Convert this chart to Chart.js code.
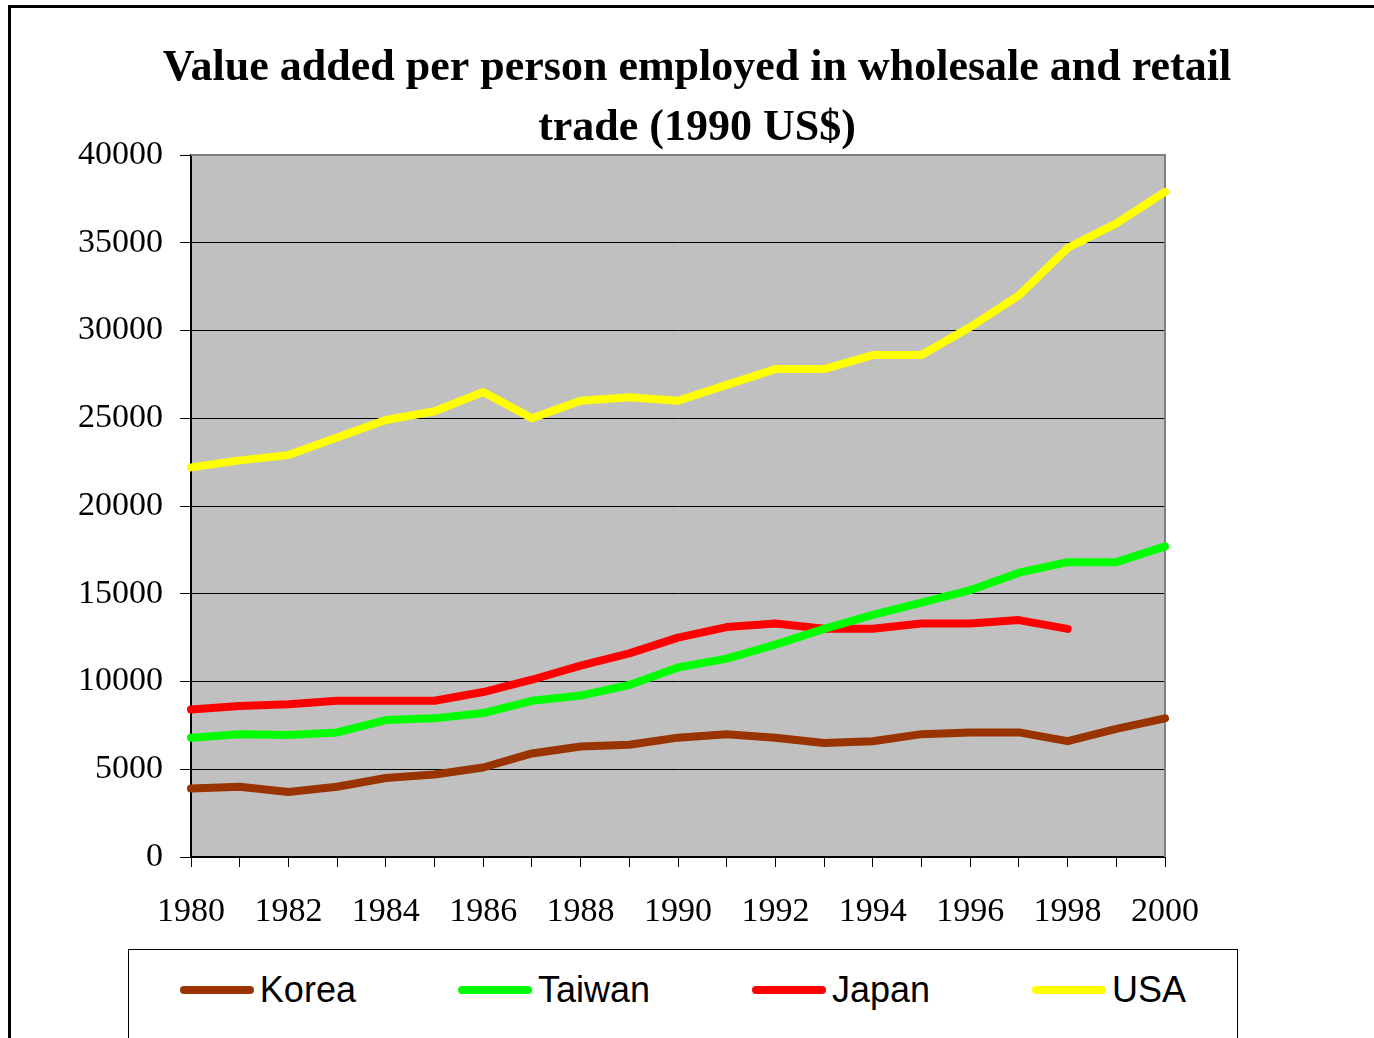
<!DOCTYPE html>
<html>
<head>
<meta charset="utf-8">
<title>Value added per person employed</title>
<script src="https://cdn.jsdelivr.net/npm/chart.js@4.4.1/dist/chart.umd.min.js"></script>
<style>
  html, body { margin: 0; padding: 0; background: #fff; overflow: hidden; }
  #frame { position: absolute; left: 8px; top: 5px; width: 1400px; height: 1100px;
           border-left: 3px solid #000; border-top: 3px solid #000; }
  #wrap { position: absolute; left: 0; top: 0; width: 1374px; height: 1038px; }
  #legendBox { position: absolute; left: 128px; top: 949px; width: 1110px; height: 200px;
               border: 1px solid #000; background: #fff; box-sizing: border-box;
               display: flex; justify-content: center; gap: 102px; padding-top: 22px;
               font-family: 'Liberation Sans', Arial, sans-serif; font-size: 36px; color: #000; }
  .item { display: flex; align-items: center; height: 36px; }
  .swatch { width: 74px; height: 8px; border-radius: 4px; margin-right: 6px; }
</style>
</head>
<body>
<div id="frame"></div>
<div id="wrap"><canvas id="tradeChart" width="1374" height="1038"></canvas></div>
<div id="legendBox"></div>
<script>
const years = ['1980', '1981', '1982', '1983', '1984', '1985', '1986', '1987', '1988', '1989', '1990',
               '1991', '1992', '1993', '1994', '1995', '1996', '1997', '1998', '1999', '2000'];
const korea  = [3900, 4000, 3700, 4000, 4500, 4700, 5100, 5900, 6300, 6400, 6800,
                7000, 6800, 6500, 6600, 7000, 7100, 7100, 6600, 7300, 7900];
const taiwan = [6800, 7000, 6950, 7100, 7800, 7900, 8200, 8900, 9200, 9800, 10800,
                11300, 12100, 13000, 13800, 14500, 15200, 16200, 16800, 16800, 17700];
const japan  = [8400, 8600, 8700, 8900, 8900, 8900, 9400, 10100, 10900, 11600, 12500,
                13100, 13300, 13000, 13000, 13300, 13300, 13500, 13000, null, null];
const usa    = [22200, 22600, 22900, 23900, 24900, 25400, 26500, 25000, 26000, 26200, 26000,
                26900, 27800, 27800, 28600, 28600, 30200, 32000, 34700, 36100, 37900];

const titleLines = ['Value added per person employed in wholesale and retail', 'trade (1990 US$)'];
const serif = "'Liberation Serif', 'Times New Roman', serif";

// grey plot area with a grey frame on top and right
const plotArea = {
    id: 'plotArea',
    beforeDraw(chart) {
        const { ctx, chartArea: { left, top, width, height } } = chart;
        ctx.save();
        ctx.fillStyle = '#c0c0c0';
        ctx.fillRect(left, top, width, height);
        ctx.restore();
    },
    beforeDatasetsDraw(chart) {
        const { ctx, chartArea: { left, top, right, bottom } } = chart;
        ctx.save();
        ctx.strokeStyle = '#808080';
        ctx.lineWidth = 2;
        ctx.beginPath();
        ctx.moveTo(left, top);
        ctx.lineTo(right, top);
        ctx.lineTo(right, bottom);
        ctx.stroke();
        ctx.restore();
    }
};

function series(label, data, color) {
    return {
        label: label,
        data: data,
        borderColor: color,
        backgroundColor: color,
        borderWidth: 8,
        pointRadius: 0,
        pointHoverRadius: 0,
        tension: 0,
        fill: false,
        spanGaps: false,
        borderCapStyle: 'round',
        borderJoinStyle: 'round'
    };
}

const ctx = document.getElementById('tradeChart').getContext('2d');
const tradeChart = new Chart(ctx, {
    type: 'line',
    data: {
        labels: years,
        datasets: [
            series('Korea', korea, '#993300'),
            series('Taiwan', taiwan, '#00ff00'),
            series('Japan', japan, '#ff0000'),
            series('USA', usa, '#ffff00')
        ]
    },
    options: {
        responsive: false,
        animation: false,
        layout: { padding: { top: 10, left: 20, right: 0, bottom: 101 } },
        plugins: {
            legend: { display: false },
            tooltip: { enabled: false },
            title: {
                display: true,
                text: titleLines,
                color: '#000',
                font: { family: serif, size: 44, weight: 'bold', lineHeight: 60 / 44 },
                padding: { top: 29, bottom: -4 }
            }
        },
        scales: {
            x: {
                grid: { drawOnChartArea: false, drawTicks: true, tickLength: 10, color: '#000' },
                border: { color: '#000', width: 2 },
                ticks: {
                    autoSkip: false,
                    maxRotation: 0,
                    padding: 25,
                    color: '#000',
                    font: { family: serif, size: 34 },
                    callback: (value, index) => index % 2 === 0 ? years[index] : ''
                },
                afterFit: scale => { scale.height = 80; }
            },
            y: {
                min: 0,
                max: 40000,
                grid: { color: '#000', lineWidth: 1, tickLength: 11 },
                border: { color: '#000', width: 2 },
                ticks: {
                    stepSize: 5000,
                    padding: 17,
                    color: '#000',
                    font: { family: serif, size: 34 },
                    callback: value => String(value)
                },
                afterFit: scale => { scale.width = 171; }
            },
            yRight: {
                position: 'right',
                display: true,
                grid: { display: false, drawTicks: false },
                border: { display: false },
                ticks: { display: false },
                afterFit: scale => { scale.width = 209; }
            }
        }
    },
    plugins: [plotArea]
});

// legend built from the chart's own datasets
const legendBox = document.getElementById('legendBox');
tradeChart.data.datasets.forEach(ds => {
    const item = document.createElement('div');
    item.className = 'item';
    const swatch = document.createElement('span');
    swatch.className = 'swatch';
    swatch.style.background = ds.borderColor;
    const text = document.createElement('span');
    text.textContent = ds.label;
    item.appendChild(swatch);
    item.appendChild(text);
    legendBox.appendChild(item);
});
</script>
</body>
</html>
